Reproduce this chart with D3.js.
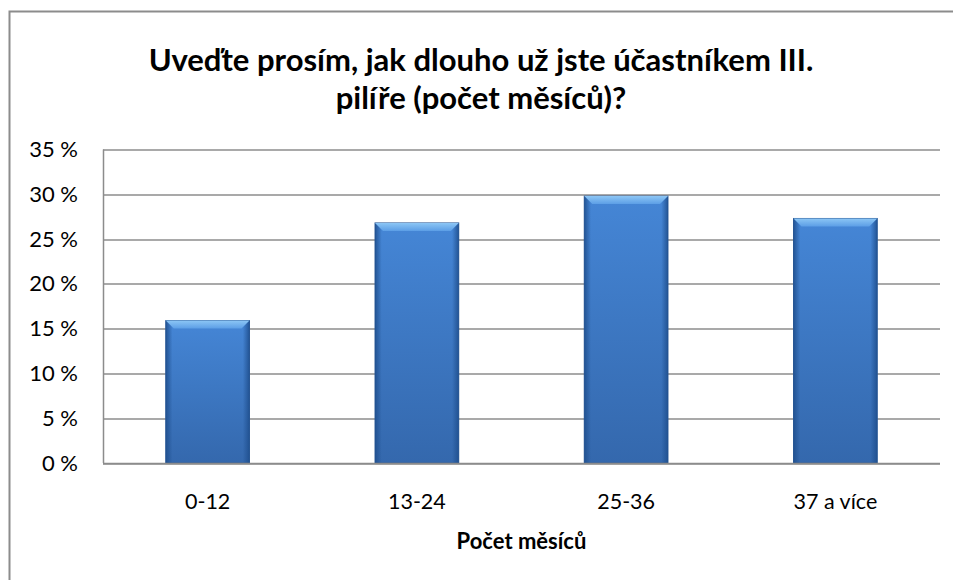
<!DOCTYPE html>
<html>
  <head>
    <meta charset="utf-8">
    <style>
      body { margin: 0; padding: 0; background: #fff; }
      svg { display: block; font-family: Lato, 'Open Sans', sans-serif; }
    </style>
  </head>
  <body>
    <div id="chart"></div>
    <script src="https://cdn.jsdelivr.net/npm/d3@7"></script>
    <script>
      var categories = ["0-12", "13-24", "25-36", "37 a více"];
      var values = [15.9, 26.8, 29.8, 27.3];
      var yTicks = [0, 5, 10, 15, 20, 25, 30, 35];
      var titleLines = ["Uveďte prosím, jak dlouho už jste účastníkem III.", "pilíře (počet měsíců)?"];
      var xTitle = "Počet měsíců";

      var W = 953, H = 580;
      var margin = {top: 149.5, right: 13, bottom: 117, left: 103};
      var width = W - margin.left - margin.right,
          height = H - margin.top - margin.bottom;

      var svg = d3.select("#chart").append("svg")
          .attr("width", W)
          .attr("height", H);

      // outer chart border (only top/left visible in frame)
      svg.append("rect")
        .attr("x", 9.5).attr("y", 11.5)
        .attr("width", W + 20).attr("height", H + 20)
        .attr("fill", "none")
        .attr("stroke", "#8c8c8c")
        .attr("stroke-width", 2);

      var defs = svg.append("defs");
      var grad = defs.append("linearGradient")
          .attr("id", "barGrad")
          .attr("x1", 0).attr("y1", 0).attr("x2", 0).attr("y2", 1);
      grad.append("stop").attr("offset", "0%").attr("stop-color", "#4586d6");
      grad.append("stop").attr("offset", "100%").attr("stop-color", "#3468ad");

      var side = defs.append("linearGradient")
          .attr("id", "sideGrad")
          .attr("x1", 0).attr("y1", 0).attr("x2", 1).attr("y2", 0);
      side.append("stop").attr("offset", "0%").attr("stop-color", "#1f4f8e").attr("stop-opacity", 0.9);
      side.append("stop").attr("offset", "8%").attr("stop-color", "#1f4f8e").attr("stop-opacity", 0);
      side.append("stop").attr("offset", "92%").attr("stop-color", "#1f4f8e").attr("stop-opacity", 0);
      side.append("stop").attr("offset", "100%").attr("stop-color", "#1f4f8e").attr("stop-opacity", 0.9);

      var topGrad = defs.append("linearGradient")
          .attr("id", "topGrad")
          .attr("x1", 0).attr("y1", 0).attr("x2", 0).attr("y2", 1);
      topGrad.append("stop").attr("offset", "0%").attr("stop-color", "#8cc6f5");
      topGrad.append("stop").attr("offset", "100%").attr("stop-color", "#5c9ee6");

      var g = svg.append("g")
          .attr("transform", "translate(" + margin.left + "," + margin.top + ")");

      var x = d3.scaleBand()
          .domain(categories)
          .range([0, width])
          .paddingInner(0.6)
          .paddingOuter(0.3);

      var y = d3.scaleLinear()
          .domain([0, 35])
          .range([height, 0]);

      // gridlines
      g.append("g")
        .selectAll("line")
        .data(yTicks)
        .enter().append("line")
          .attr("x1", 0).attr("x2", width)
          .attr("y1", d => Math.round(y(d)) + 0.5)
          .attr("y2", d => Math.round(y(d)) + 0.5)
          .attr("stroke", "#8c8c8c")
          .attr("stroke-width", 1.5);

      // y axis line
      g.append("line")
        .attr("x1", 0.5).attr("x2", 0.5)
        .attr("y1", 0).attr("y2", height)
        .attr("stroke", "#8c8c8c")
        .attr("stroke-width", 1.5);

      var yAxis = g.append("g")
        .call(d3.axisLeft(y).tickValues(yTicks).tickSize(0).tickPadding(25)
              .tickFormat(d => d + " %"));
      yAxis.select(".domain").remove();
      yAxis.selectAll("text")
        .attr("font-family", "Lato, 'Open Sans', sans-serif")
        .attr("font-size", "22px")
        .attr("fill", "#000");

      // bars
      var bars = g.append("g")
        .selectAll("g")
        .data(values)
        .enter().append("g")
          .attr("transform", (d, i) => "translate(" + x(categories[i]) + "," + y(d) + ")");

      bars.append("rect")
        .attr("width", x.bandwidth())
        .attr("height", d => height - y(d))
        .attr("fill", "url(#barGrad)")
        .attr("stroke", "#2c5a96")
        .attr("stroke-width", 1);

      bars.append("rect")
        .attr("width", x.bandwidth())
        .attr("height", d => height - y(d))
        .attr("fill", "url(#sideGrad)");

      var bev = 8;
      bars.append("path")
        .attr("d", "M0,0 L" + x.bandwidth() + ",0 L" + (x.bandwidth() - bev) + "," + bev + " L" + bev + "," + bev + " Z")
        .attr("fill", "url(#topGrad)");

      // x labels
      var xAxis = g.append("g")
        .attr("transform", "translate(0," + height + ")")
        .call(d3.axisBottom(x).tickSize(0).tickPadding(31));
      xAxis.select(".domain").remove();
      xAxis.selectAll("text")
        .attr("font-family", "Lato, 'Open Sans', sans-serif")
        .attr("font-size", "21.5px")
        .attr("fill", "#000");

      // bottom axis line
      g.append("line")
        .attr("x1", 0).attr("x2", width)
        .attr("y1", height + 0.5).attr("y2", height + 0.5)
        .attr("stroke", "#8c8c8c")
        .attr("stroke-width", 1.5);

      svg.append("text")
        .attr("x", margin.left + width / 2)
        .attr("y", 549)
        .attr("text-anchor", "middle")
        .attr("font-size", "22px")
        .attr("font-weight", "bold")
        .text(xTitle);

      svg.selectAll(".title")
        .data(titleLines)
        .enter().append("text")
          .attr("class", "title")
          .attr("x", 481)
          .attr("y", (d, i) => 71 + i * 38)
          .attr("text-anchor", "middle")
          .attr("font-size", "31px")
          .attr("font-weight", "bold")
          .text(d => d);
    </script>
  </body>
</html>
